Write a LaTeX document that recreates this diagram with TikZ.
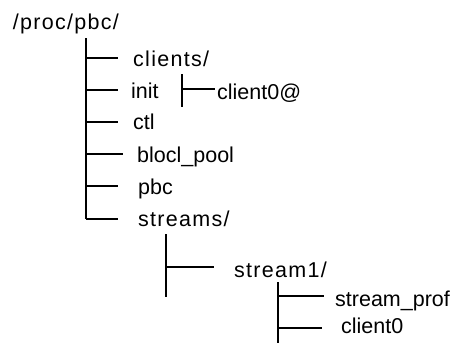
\documentclass[tikz,border=0pt]{standalone}
\usepackage{fontspec}
\setmainfont{Liberation Sans}
\newfontfamily\spacedfont[LetterSpace=6]{Liberation Sans}
\begin{document}
\begin{tikzpicture}[x=1pt,y=-1pt,
  lbl/.style={anchor=base west, inner sep=0pt, font=\fontsize{21.5pt}{25pt}\selectfont},
  slbl/.style={anchor=base west, inner sep=0pt, font=\spacedfont\fontsize{21.5pt}{25pt}\selectfont},
  trunk/.style={line width=2.4pt},
  branch/.style={line width=1.9pt}]
\useasboundingbox (0,0) rectangle (453,343);
% labels
\node[slbl] (root) at (12.7,29.5) {/proc/pbc/};
\node[slbl] (clients) at (133,66) {clients/};
\node[lbl] (init) at (131,98) {init};
\node[lbl] (ctl) at (133,129) {ctl};
\node[lbl] (blocl) at (137,162) {blocl\_pool};
\node[lbl] (pbc) at (138,194) {pbc};
\node[slbl] (streams) at (138,226) {streams/};
\node[lbl] (client0at) at (217,99) {client0@};
\node[slbl] (stream1) at (234,277) {stream1/};
\node[lbl] (streamprof) at (335,306) {stream\_prof};
\node[lbl] (client0) at (341,333) {client0};
% trunks
\coordinate (t1top) at (86,38);
\coordinate (t1bot) at (86,219);
\coordinate (t2top) at (182,74);
\coordinate (t2bot) at (182,107);
\coordinate (t3top) at (166,234);
\coordinate (t3bot) at (166,297);
\coordinate (t4top) at (278,282);
\coordinate (t4bot) at (278,343);
\draw[trunk] (t1top) -- (t1bot);
\draw[trunk] (t2top) -- (t2bot);
\draw[trunk] (t3top) -- (t3bot);
\draw[trunk] (t4top) -- (t4bot);
% branches
\coordinate (eclients) at (118,58.3);
\coordinate (einit) at (118,90.3);
\coordinate (ectl) at (118,122);
\coordinate (eblocl) at (122.7,154.3);
\coordinate (epbc) at (118,186);
\coordinate (estreams) at (118,218.7);
\coordinate (eclient0at) at (215,89);
\coordinate (estream1) at (214.3,266.7);
\coordinate (estreamprof) at (324,296);
\coordinate (eclient0) at (322,328.3);
\draw[branch] (t1top |- eclients) -- (eclients);
\draw[branch] (t1top |- einit) -- (einit);
\draw[branch] (t1top |- ectl) -- (ectl);
\draw[branch] (t1top |- eblocl) -- (eblocl);
\draw[branch] (t1top |- epbc) -- (epbc);
\draw[branch] (t1top |- estreams) -- (estreams);
\draw[branch] (t2top |- eclient0at) -- (eclient0at);
\draw[branch] (t3top |- estream1) -- (estream1);
\draw[branch] (t4top |- estreamprof) -- (estreamprof);
\draw[branch] (t4top |- eclient0) -- (eclient0);
\end{tikzpicture}
\end{document}
